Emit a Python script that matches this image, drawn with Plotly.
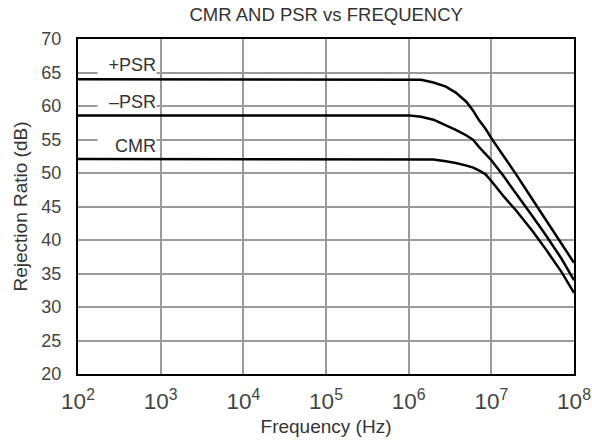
import plotly.graph_objects as go

# Frequency points (Hz)
freq_hz = [1e2, 1e6, 10**6.15, 10**6.3, 10**6.45, 10**6.57, 10**6.7, 10**6.78,
           10**6.85, 10**6.93, 1e7, 10**7.15, 10**7.3, 10**7.5, 10**7.66, 10**7.85, 1e8]

psr_pos_db = [64.0, 64.0, 63.9, 63.5, 62.9, 62.0, 60.6, 59.3,
              57.9, 56.6, 55.2, 52.5, 49.8, 46.0, 43.0, 39.5, 36.6]
psr_neg_db = [58.6, 58.6, 58.4, 57.95, 57.1, 56.45, 55.6, 54.95,
              53.9, 52.9, 51.9, 49.5, 47.0, 43.5, 40.7, 37.2, 34.0]
cmr_db = [52.1, 52.1, 52.05, 52.0, 51.75, 51.5, 51.1, 50.8,
          50.4, 49.8, 48.8, 46.5, 44.4, 41.3, 38.6, 35.2, 32.1]

series_names = ["+PSR", "\u2013PSR", "CMR"]
label_y = [66.25, 60.65, 54.15]

y_ticks = [20, 25, 30, 35, 40, 45, 50, 55, 60, 65, 70]

FONT = "Arial, 'Liberation Sans', sans-serif"

fig = go.Figure()
for name, vals in zip(series_names, [psr_pos_db, psr_neg_db, cmr_db]):
    fig.add_trace(go.Scatter(x=freq_hz, y=vals, mode="lines", name=name,
                             line=dict(color="black", width=2.5),
                             showlegend=False, hoverinfo="skip"))

for name, ly in zip(series_names, label_y):
    fig.add_annotation(x=2.952, y=ly, xref="x", yref="y", text=name,
                       showarrow=False, xanchor="right", yanchor="middle",
                       align="right", width=58, height=19, bgcolor="white",
                       borderpad=0, font=dict(size=18, color="#333333", family=FONT))

fig.update_layout(
    width=592, height=442,
    margin=dict(l=78, r=18, t=39, b=68, autoexpand=False),
    paper_bgcolor="white", plot_bgcolor="white",
    font=dict(family=FONT, color="#333333", size=16),
    title=dict(text="CMR AND PSR vs FREQUENCY", x=0.551, xanchor="center",
               y=1 - 15 / 442, yanchor="middle",
               font=dict(size=18.5, color="#333333", family=FONT)),
)
fig.update_xaxes(type="log", range=[2, 8], dtick=1, exponentformat="power",
                 showline=True, mirror=True, linecolor="black", linewidth=2,
                 showgrid=True, gridcolor="#9a9a9a", gridwidth=2, zeroline=False,
                 ticks="", ticklabelstandoff=7, automargin=False, layer="below traces",
                 tickfont=dict(size=18, color="#444444", family=FONT),
                 title=dict(text="Frequency (Hz)", standoff=7,
                            font=dict(size=19, color="#333333", family=FONT)))
fig.update_yaxes(range=[20, 70], tickvals=y_ticks,
                 showline=True, mirror=True, linecolor="black", linewidth=2,
                 showgrid=True, gridcolor="#9a9a9a", gridwidth=2, zeroline=False,
                 ticks="", ticklabelstandoff=11, automargin=False, layer="below traces",
                 tickfont=dict(size=18, color="#444444", family=FONT),
                 title=dict(text="Rejection Ratio (dB)", standoff=9,
                            font=dict(size=19, color="#333333", family=FONT)))

fig.write_html("out.html", config={"displayModeBar": False, "staticPlot": True},
               post_script="document.body.style.margin='0px';")
